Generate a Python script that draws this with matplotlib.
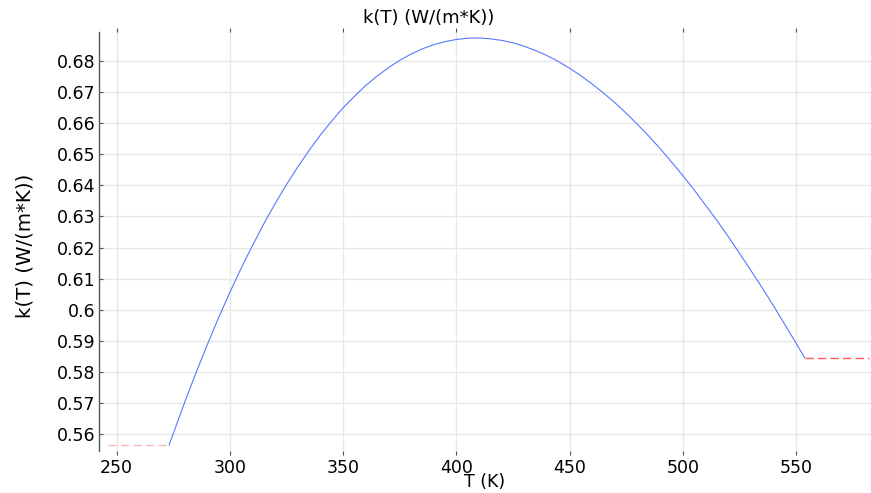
import numpy as np
import matplotlib
matplotlib.use("Agg")
import matplotlib.pyplot as plt

# ==========================================
# DATA
# ==========================================
# k(T) curve inside the valid range
T_curve = [273.15, 275, 280, 285, 290, 295, 300, 305, 310, 315, 320, 325, 330,
           335, 340, 345, 350, 355, 360, 365, 370, 375, 380, 385, 390, 395,
           400, 405, 410, 415, 420, 425, 430, 435, 440, 445, 450, 455, 460,
           465, 470, 475, 480, 485, 490, 495, 500, 505, 510, 515, 520, 525,
           530, 535, 540, 545, 550, 553.75]
k_curve = [0.5564, 0.5601, 0.5701, 0.5796, 0.5887, 0.5974, 0.6056, 0.6134,
           0.6207, 0.6277, 0.6342, 0.6403, 0.6460, 0.6513, 0.6563, 0.6608,
           0.6650, 0.6687, 0.6722, 0.6752, 0.6779, 0.6803, 0.6823, 0.6840,
           0.6853, 0.6863, 0.6870, 0.6874, 0.6875, 0.6872, 0.6867, 0.6859,
           0.6848, 0.6834, 0.6818, 0.6799, 0.6777, 0.6753, 0.6726, 0.6697,
           0.6666, 0.6632, 0.6596, 0.6558, 0.6518, 0.6475, 0.6431, 0.6385,
           0.6336, 0.6287, 0.6235, 0.6181, 0.6126, 0.6070, 0.6012, 0.5952,
           0.5891, 0.5845]

# constant extrapolation outside the range
T_low = [246.0, 273.15]
k_low = [0.5564, 0.5564]
T_high = [553.75, 582.0]
k_high = [0.5845, 0.5845]

x_ticks = [250, 300, 350, 400, 450, 500, 550]
y_ticks = [0.56, 0.57, 0.58, 0.59, 0.6, 0.61, 0.62, 0.63, 0.64, 0.65, 0.66,
           0.67, 0.68]
y_tick_labels = ["0.56", "0.57", "0.58", "0.59", "0.6", "0.61", "0.62",
                 "0.63", "0.64", "0.65", "0.66", "0.67", "0.68"]

# ==========================================
# PLOT
# ==========================================
fig = plt.figure(figsize=(8.71, 4.93), dpi=100)
ax = fig.add_axes([0.1131, 0.0852, 0.8869, 0.8499])

ax.plot(T_low, k_low, color='#f5b8b8', linestyle='--', linewidth=1.0, dashes=(6, 3))
ax.plot(T_high, k_high, color='#ff5a5a', linestyle='--', linewidth=1.0, dashes=(6, 3))
ax.plot(T_curve, k_curve, color='#5a78ff', linewidth=0.8)

ax.set_xlim(242, 583)
ax.set_ylim(0.5545, 0.6894)
ax.set_xticks(x_ticks)
ax.set_yticks(y_ticks)
ax.set_yticklabels(y_tick_labels)

ax.grid(True, color='#e8e8e8', linewidth=1.0)
ax.set_axisbelow(True)

for side in ['top', 'right', 'bottom']:
    ax.spines[side].set_visible(False)
ax.spines['left'].set_color('#555555')
ax.spines['left'].set_linewidth(1.0)

ax.tick_params(axis='y', direction='in', length=3, width=0.8, color='#555555',
               labelsize=12.5, pad=2)
ax.tick_params(axis='x', direction='out', length=3, width=0.8, color='#555555',
               labelsize=12.5, pad=3, top=True)

# title sits left of the axes centre in the reference
fig.text(429 / 871, 1 - 18 / 493, "k(T) (W/(m*K))", fontsize=13,
         ha='center', va='center')
ax.set_ylabel("k(T) (W/(m*K))", fontsize=14.2, labelpad=19)
ax.yaxis.set_label_coords(-0.083, 0.49)
ax.set_xlabel("T (K)", fontsize=12.5, labelpad=-3)

fig.savefig("out.png", dpi=100)
